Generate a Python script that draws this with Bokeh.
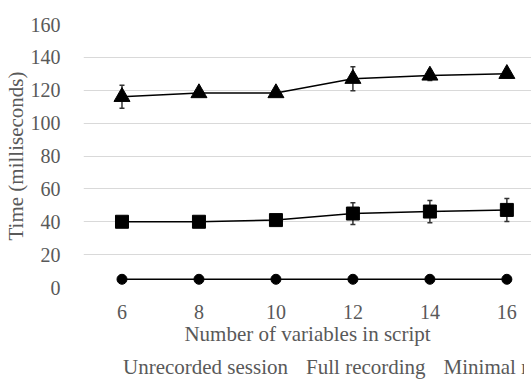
from bokeh.plotting import figure
from bokeh.layouts import column
from bokeh.models import (Range1d, FixedTicker, Whisker, ColumnDataSource, Legend, LegendItem, TeeHead)
from bokeh.embed import file_html
from bokeh.resources import INLINE

variables = [6, 8, 10, 12, 14, 16]
unrecorded = [5, 5, 5, 5, 5, 5]
full = [116, 118.3, 118.3, 127, 129, 130]
full_err = [7, 1.5, 1, 7.3, 3, 1]
minimal = [40, 40, 41, 45, 46.2, 47.2]
minimal_err = [0.5, 0.5, 0.5, 6.6, 6.8, 7]
series_names = ["Unrecorded session", "Full recording", "Minimal recording"]

FONT = "Liberation Serif"
GRAY = "#595959"

p = figure(frame_width=448, frame_height=263, output_backend="svg", toolbar_location=None,
           x_range=Range1d(5, 16.64), y_range=Range1d(0, 160),
           min_border_top=24, min_border_left=76, min_border_right=0, min_border_bottom=68)
p.outline_line_color = None
p.background_fill_color = "white"

for ax in (p.xaxis[0], p.yaxis[0]):
    ax.axis_line_color = None
    ax.major_tick_line_color = None
    ax.minor_tick_line_color = None
    ax.major_label_text_font = FONT
    ax.major_label_text_font_size = "20px"
    ax.major_label_text_color = GRAY
    ax.axis_label_text_font = FONT
    ax.axis_label_text_font_size = "21px"
    ax.axis_label_text_font_style = "normal"
    ax.axis_label_text_color = GRAY

p.xaxis.ticker = FixedTicker(ticks=variables)
p.yaxis.ticker = FixedTicker(ticks=[0, 20, 40, 60, 80, 100, 120, 140, 160])
p.xaxis.axis_label = "Number of variables in script"
p.yaxis.axis_label = "Time (milliseconds)"
p.xaxis.major_label_standoff = 11
p.xaxis.axis_label_standoff = 0
p.yaxis.major_label_standoff = 17
p.yaxis.axis_label_standoff = 0

p.xgrid.grid_line_color = None
p.ygrid.grid_line_color = "#d9d9d9"
p.ygrid.grid_line_width = 1

def err_src(x, y, e):
    return ColumnDataSource(dict(x=x, lo=[a - b for a, b in zip(y, e)], hi=[a + b for a, b in zip(y, e)]))

for y, e in ((full, full_err), (minimal, minimal_err)):
    s = err_src(variables, y, e)
    w = Whisker(source=s, base="x", lower="lo", upper="hi", line_color="#333333", line_width=1.5,
                upper_head=TeeHead(size=5, line_color="#333333", line_width=1.5),
                lower_head=TeeHead(size=5, line_color="#333333", line_width=1.5))
    p.add_layout(w)

p.line(variables, unrecorded, line_color="black", line_width=1.5)
p.scatter(variables, unrecorded, marker="circle", size=10, color="black")
p.line(variables, full, line_color="black", line_width=1.5)
p.scatter(variables, full, marker="triangle", size=16, color="black")
p.line(variables, minimal, line_color="black", line_width=1.5)
p.scatter(variables, minimal, marker="square", size=13, color="black")

# legend strip below the chart
p2 = figure(width=524, height=25, output_backend="svg", toolbar_location=None,
            x_range=Range1d(0, 1), y_range=Range1d(0, 1),
            x_axis_location=None, y_axis_location=None,
            min_border=0, min_border_left=0, min_border_right=0, min_border_top=0, min_border_bottom=0)
p2.outline_line_color = None
p2.xgrid.visible = False
p2.ygrid.visible = False

items = []
for name, mk, sz in zip(series_names, ["circle", "triangle", "square"], [10, 16, 13]):
    lr = p2.line([], [], line_color="black", line_width=1.5)
    sr = p2.scatter([], [], marker=mk, size=sz, color="black")
    items.append(LegendItem(label=name, renderers=[lr, sr]))

legend = Legend(items=items, orientation="horizontal", location=(24, 0),
                label_text_font=FONT, label_text_font_size="21px", label_text_color=GRAY,
                label_height=20, glyph_width=14, glyph_height=14, label_standoff=2, spacing=2,
                padding=0, margin=0, border_line_color=None, background_fill_alpha=0)
p2.add_layout(legend)

layout = column(p, p2, spacing=0)
open("out.html", "w").write(file_html(layout, INLINE))
